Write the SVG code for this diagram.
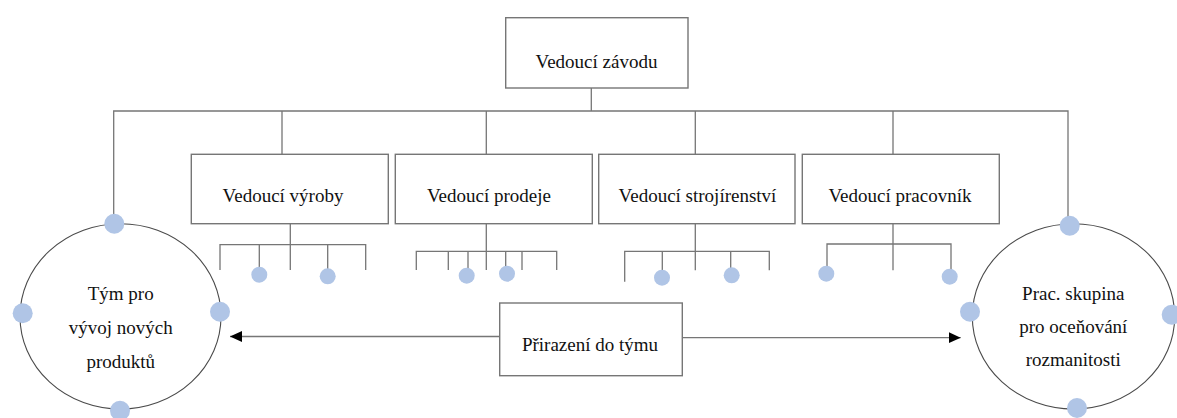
<svg xmlns="http://www.w3.org/2000/svg" width="1177" height="418" viewBox="0 0 1177 418">
  <style>
    .box { fill: #ffffff; stroke: #767676; stroke-width: 1.4; }
    .ring { fill: #ffffff; stroke: #4a4a4a; stroke-width: 1.1; }
    .wire { fill: none; stroke: #767676; stroke-width: 1.3; }
    .dot { fill: #b0c5e6; }
    .lbl { font-family: 'Liberation Serif', 'Times New Roman', serif; font-size: 19px; fill: #111111; text-anchor: middle; }
  </style>
  <defs>
    <marker id="arrow" viewBox="0 0 12 12" refX="12" refY="6" markerWidth="12" markerHeight="12" markerUnits="userSpaceOnUse" orient="auto">
      <path d="M0,0.5 L12,6 L0,11.5 Z" fill="#000000"/>
    </marker>
  </defs>

  <rect width="1177" height="418" fill="#ffffff"/>

  <!-- connectors -->
  <g id="connectors">
    <!-- top bus -->
    <path class="wire" d="M591.3,88 V111 M113.7,223 V111 H1068 V224 M282,111 V154 M486.3,111 V154 M695.3,111 V154 M893,111 V154"/>
    <!-- production staff -->
    <path class="wire" d="M290.3,224 V270 M220,270 V244.7 H365.7 V270 M259.3,244.7 V272 M327.7,244.7 V273"/>
    <!-- sales staff -->
    <path class="wire" d="M486.3,224 V270 M416.3,270 V251.3 H556.7 V270 M448.3,251.3 V270 M468,251.3 V272 M505.7,251.3 V270 M522,251.3 V270"/>
    <!-- engineering staff -->
    <path class="wire" d="M695.3,224 V270.3 M624.7,281.7 V251.3 H769.3 V270.3 M662.3,251.3 V274 M730.7,251.3 V272"/>
    <!-- personnel staff -->
    <path class="wire" d="M893,224 V270.3 M827,271 V244 H951 V274"/>
    <!-- team assignment arrows -->
    <line class="wire" x1="499.7" y1="336.5" x2="230" y2="336.5" marker-end="url(#arrow)"/>
    <line class="wire" x1="682.3" y1="337.7" x2="960.7" y2="337.7" marker-end="url(#arrow)"/>
  </g>

  <g id="vedouci-zavodu">
    <rect class="box" x="505.7" y="17.7" width="182.3" height="70.3"/>
    <text class="lbl" x="596.5" y="68.3">Vedoucí závodu</text>
  </g>

  <g id="vedouci-vyroby">
    <rect class="box" x="191.3" y="154.3" width="197" height="69.4"/>
    <text class="lbl" x="283" y="202.3">Vedoucí výroby</text>
  </g>

  <g id="vedouci-prodeje">
    <rect class="box" x="395.3" y="154.3" width="197" height="69.4"/>
    <text class="lbl" x="489" y="202.3">Vedoucí prodeje</text>
  </g>

  <g id="vedouci-strojirenstvi">
    <rect class="box" x="598.7" y="154.3" width="196.3" height="69.4"/>
    <text class="lbl" x="697.5" y="202.3">Vedoucí strojírenství</text>
  </g>

  <g id="vedouci-pracovnik">
    <rect class="box" x="802.3" y="154.3" width="197" height="69.4"/>
    <text class="lbl" x="900" y="202.3">Vedoucí pracovník</text>
  </g>

  <g id="staff-dots">
    <circle class="dot" cx="259.3" cy="274.7" r="8"/>
    <circle class="dot" cx="327.7" cy="276.3" r="8"/>
    <circle class="dot" cx="466.7" cy="275.7" r="8"/>
    <circle class="dot" cx="507" cy="273.7" r="8"/>
    <circle class="dot" cx="662" cy="277.7" r="8"/>
    <circle class="dot" cx="731.7" cy="275.3" r="8"/>
    <circle class="dot" cx="826.3" cy="273.7" r="8"/>
    <circle class="dot" cx="949.7" cy="276.7" r="8"/>
  </g>

  <g id="prirazeni-do-tymu">
    <rect class="box" x="499.7" y="303" width="182.6" height="72.7"/>
    <text class="lbl" x="590" y="350.7">Přirazení do týmu</text>
  </g>

  <g id="tym-pro-vyvoj">
    <ellipse class="ring" cx="120.5" cy="316.4" rx="100.5" ry="92.7"/>
    <circle class="dot" cx="114.3" cy="223.7" r="10"/>
    <circle class="dot" cx="22.7" cy="313.3" r="10"/>
    <circle class="dot" cx="220" cy="311.7" r="10"/>
    <circle class="dot" cx="120" cy="410.7" r="10"/>
    <text class="lbl" x="120.7" y="300">Tým pro</text>
    <text class="lbl" x="120.7" y="333.5">vývoj nových</text>
    <text class="lbl" x="120.7" y="368">produktů</text>
  </g>

  <g id="prac-skupina">
    <ellipse class="ring" cx="1073.5" cy="316.4" rx="101.2" ry="92.7"/>
    <circle class="dot" cx="1069.7" cy="225.7" r="10"/>
    <circle class="dot" cx="970" cy="311.7" r="10"/>
    <circle class="dot" cx="1171.7" cy="314.7" r="10"/>
    <circle class="dot" cx="1077" cy="408" r="10"/>
    <text class="lbl" x="1073.3" y="299.7">Prac. skupina</text>
    <text class="lbl" x="1073.3" y="333">pro oceňování</text>
    <text class="lbl" x="1073.3" y="366.3">rozmanitosti</text>
  </g>
</svg>
